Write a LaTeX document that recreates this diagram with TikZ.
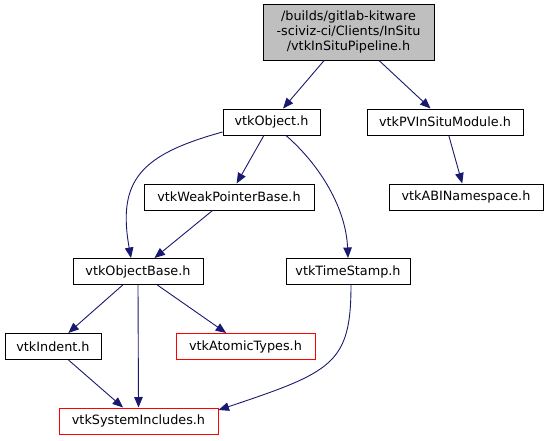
\documentclass[tikz,border=0pt]{standalone}
\usepackage{fontspec}
\setmainfont{DejaVu Sans}
\usetikzlibrary{arrows.meta,calc}
\definecolor{edgecol}{HTML}{191970}
\definecolor{topfill}{HTML}{BFBFBF}
\begin{document}
\begin{tikzpicture}[x=1pt,y=-1pt,
  box/.style={draw=black, line width=1pt, minimum height=26pt, inner sep=0pt, font=\fontsize{12.8}{14.7}\selectfont, anchor=center},
  redbox/.style={box, draw=red},
  edge/.style={draw=edgecol, line width=0.9pt, -{Triangle[length=10.5pt,width=8.5pt]}},
]
\useasboundingbox (0,0) rectangle (549,440);
\node[box, fill=topfill, minimum width=171pt, minimum height=56pt, align=center] (top) at (348.5,32) {/builds/gitlab-kitware\\-sciviz-ci/Clients/InSitu\\/vtkInSituPipeline.h};
\node[box, minimum width=97pt] (obj) at (271.5,122) {vtkObject.h};
\node[box, minimum width=156pt] (pv) at (445,122) {vtkPVInSituModule.h};
\node[box, minimum width=170pt] (weak) at (229,197) {vtkWeakPointerBase.h};
\node[box, minimum width=154pt] (abi) at (466,197) {vtkABINamespace.h};
\node[box, minimum width=130pt] (objbase) at (138,271.5) {vtkObjectBase.h};
\node[box, minimum width=124pt] (ts) at (348,271.5) {vtkTimeStamp.h};
\node[box, minimum width=96pt] (indent) at (53,346.5) {vtkIndent.h};
\node[redbox, minimum width=139pt] (atomic) at (245.5,346.5) {vtkAtomicTypes.h};
\node[redbox, minimum width=159pt] (sysinc) at (138.5,421) {vtkSystemIncludes.h};

\draw[edge] (top) -- (obj);
\draw[edge] (top) -- (pv);
\draw[edge] (obj) -- (weak);
\draw[edge] ($(obj.west)+(0,10)$) .. controls (141,154.5) and (117,180) .. ($(objbase.north)+(-7,0)$);
\draw[edge] ($(obj.south)+(14.5,0)$) .. controls (321,166) and (346,209) .. (ts.north);
\draw[edge] (pv) -- (abi);
\draw[edge] (weak) -- (objbase);
\draw[edge] (objbase) -- (indent);
\draw[edge] (objbase.south) -- (sysinc.north);
\draw[edge] (objbase) -- (atomic);
\draw[edge] (indent) -- (sysinc);
\draw[edge] ($(ts.south)+(3,0)$) .. controls (351,364) and (332,372) .. ($(sysinc.east)+(0,-11)$);
\end{tikzpicture}
\end{document}
